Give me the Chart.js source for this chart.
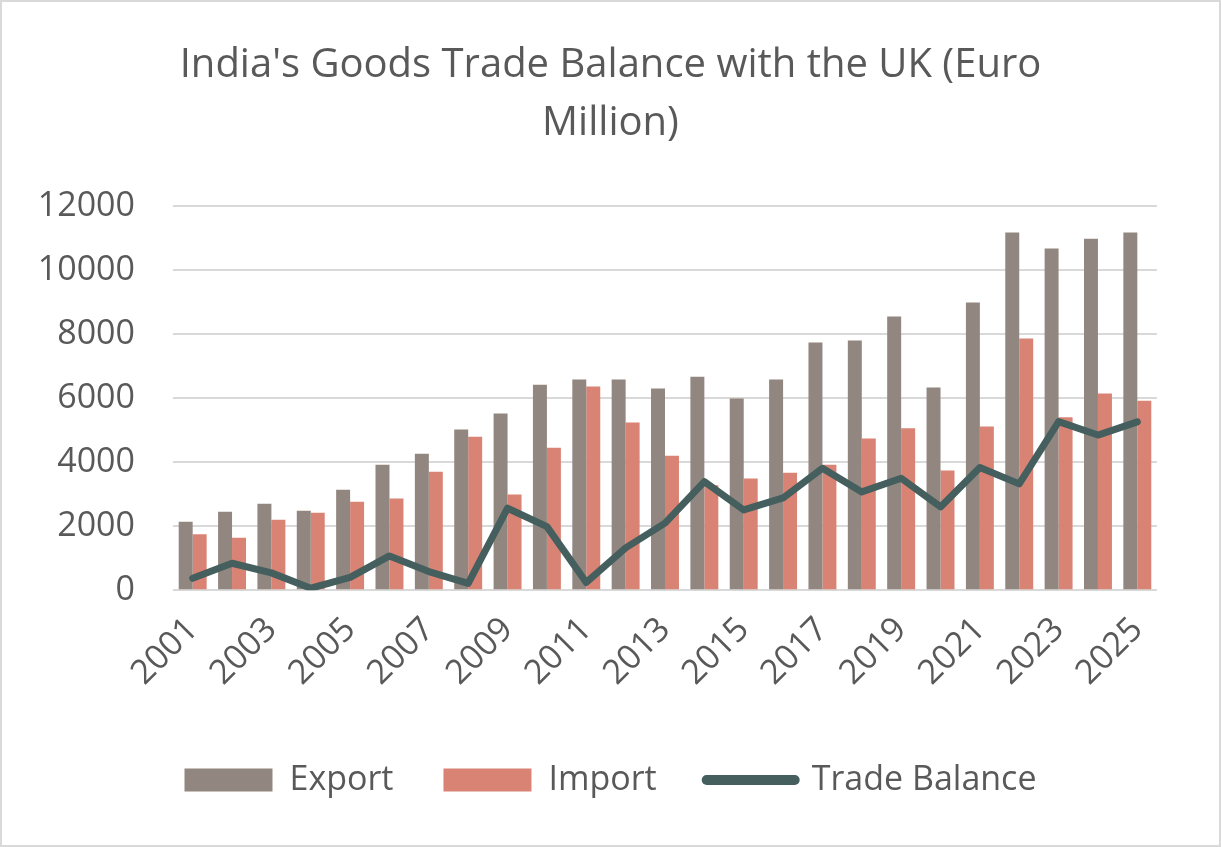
<!DOCTYPE html>
<html>
<head>
<meta charset="utf-8">
<script src="https://cdn.jsdelivr.net/npm/chart.js@4"></script>
<style>
  html, body { margin: 0; padding: 0; background: #ffffff; }
  #wrap { position: relative; width: 1221px; height: 847px; }
  #frame { position: absolute; left: 0; top: 0; width: 1221px; height: 847px; box-sizing: border-box; border: 2px solid #d9d9d9; pointer-events: none; }
</style>
</head>
<body>
<div id="wrap">
  <canvas id="c" width="1221" height="847"></canvas>
  <div id="frame"></div>
</div>
<script>
const years = ['2001','2002','2003','2004','2005','2006','2007','2008','2009','2010','2011','2012','2013','2014','2015','2016','2017','2018','2019','2020','2021','2022','2023','2024','2025'];
const exportValues = [2140,2450,2700,2480,3140,3920,4265,5015,5515,6420,6580,6580,6300,6670,5985,6580,7735,7800,8545,6330,8985,11170,10670,10980,11170];
const importValues = [1745,1640,2200,2420,2765,2860,3700,4795,2985,4450,6360,5235,4200,3280,3485,3670,3920,4735,5060,3735,5110,7860,5400,6140,5920];
const balanceValues = [370,840,540,60,400,1070,580,210,2560,1985,240,1320,2095,3390,2505,2880,3810,3070,3495,2600,3830,3320,5265,4845,5255];
const yTicks = [0,2000,4000,6000,8000,10000,12000];
const titleLines = ["India's Goods Trade Balance with the UK (Euro", "Million)"];

const textColor = '#595959';
const fontFamily = '"Open Sans", "Noto Sans", sans-serif';

new Chart(document.getElementById('c'), {
  type: 'bar',
  data: {
    labels: years,
    datasets: [
      { label: 'Export', data: exportValues, backgroundColor: '#928680', borderWidth: 0, order: 1, yAxisID: 'y' },
      { label: 'Import', data: importValues, backgroundColor: '#d98375', borderWidth: 0, order: 1, yAxisID: 'y' },
      { type: 'line', label: 'Trade Balance', data: balanceValues, borderColor: '#455f5e', backgroundColor: '#455f5e',
        borderWidth: 7, pointRadius: 0, tension: 0, borderJoinStyle: 'round', borderCapStyle: 'round', order: 0, yAxisID: 'y' }
    ]
  },
  options: {
    responsive: false,
    animation: false,
    devicePixelRatio: 1,
    layout: { padding: { left: 0, right: 0, top: 0, bottom: 40 } },
    datasets: { bar: { categoryPercentage: 0.71, barPercentage: 1.0 } },
    plugins: {
      tooltip: { enabled: false },
      title: {
        display: true,
        text: titleLines,
        color: textColor,
        font: { family: fontFamily, size: 40, weight: 'normal', lineHeight: 1.45 },
        padding: { top: 37, bottom: 53 }
      },
      legend: {
        position: 'bottom',
        labels: {
          color: textColor,
          font: { family: fontFamily, size: 34 },
          usePointStyle: true,
          pointStyleWidth: 88,
          boxWidth: 88,
          boxHeight: 23,
          padding: 50,
          sort: (a, b) => a.datasetIndex - b.datasetIndex,
          generateLabels: (chart) => {
            const items = Chart.defaults.plugins.legend.labels.generateLabels(chart);
            return items.map(it => {
              const ds = chart.data.datasets[it.datasetIndex];
              if (ds.type === 'line') {
                it.pointStyle = 'line';
                it.lineWidth = 10;
                it.strokeStyle = ds.borderColor;
                it.fillStyle = ds.borderColor;
                it.lineCap = 'round';
              } else {
                it.pointStyle = 'rect';
                it.lineWidth = 0;
                it.fillStyle = ds.backgroundColor;
                it.strokeStyle = ds.backgroundColor;
              }
              return it;
            });
          }
        }
      }
    },
    scales: {
      x: {
        grid: { display: false, drawTicks: false },
        border: { display: false },
        ticks: {
          color: textColor,
          font: { family: fontFamily, size: 34 },
          autoSkip: false,
          minRotation: 45,
          maxRotation: 45,
          padding: 19.5,
          callback: function (value, index) { return index % 2 === 0 ? this.getLabelForValue(value) : ''; }
        }
      },
      y: {
        position: 'left',
        min: 0,
        max: 12000,
        afterBuildTicks: (scale) => { scale.ticks = yTicks.map(v => ({ value: v })); },
        afterFit: (scale) => { scale.width = 173; },
        grid: { color: '#d9d9d9', lineWidth: 2, drawTicks: false },
        border: { display: false },
        ticks: {
          color: textColor,
          font: { family: fontFamily, size: 34 },
          padding: 38,
          callback: (value) => String(value)
        }
      },
      yRight: {
        position: 'right',
        display: true,
        min: 0,
        max: 12000,
        afterFit: (scale) => { scale.width = 64; },
        grid: { display: false, drawTicks: false },
        border: { display: false },
        ticks: { display: false }
      }
    }
  }
});
</script>
</body>
</html>
